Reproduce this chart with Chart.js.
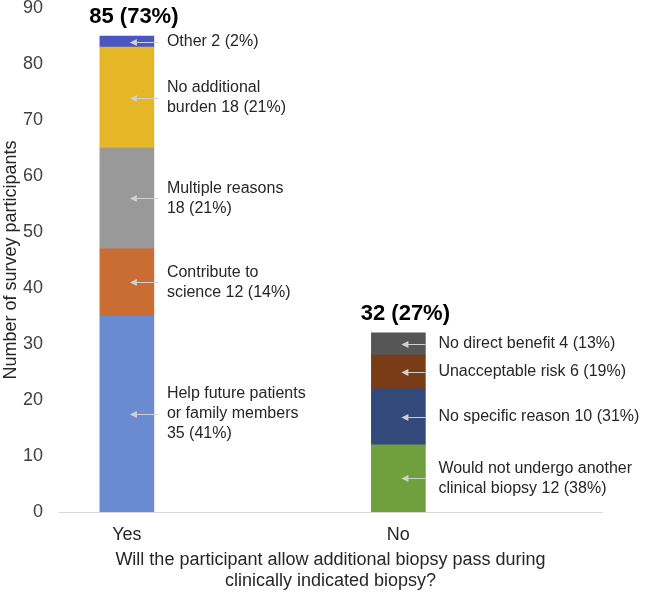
<!DOCTYPE html>
<html>
<head>
<meta charset="utf-8">
<script src="https://cdn.jsdelivr.net/npm/chart.js@4"></script>
<style>
  html, body { margin: 0; padding: 0; background: #fff; }
  #wrap { width: 664px; height: 592px; }
</style>
</head>
<body>
<div id="wrap"><canvas id="barChart"></canvas></div>
<script>
// Data

const categories = ['Yes', 'No'];

// reasons, bottom to top ("\n" = line break in the callout)
const yesReasons = ['Help future patients\nor family members\n', 'Contribute to\nscience', 'Multiple reasons\n', 'No additional\nburden', 'Other'];
const yesCounts = [35, 12, 18, 18, 2];
const yesColors = ['#6a8bd0', '#c96d35', '#999999', '#e6b629', '#4a56c2'];

const noReasons = ['Would not undergo another\nclinical biopsy', 'No specific reason', 'Unacceptable risk', 'No direct benefit'];
const noCounts = [12, 10, 6, 4];
const noColors = ['#70a03d', '#33497c', '#7a3c17', '#565656'];

const yTicks = [0, 10, 20, 30, 40, 50, 60, 70, 80, 90];

const font = '"Liberation Sans", Arial, sans-serif';

const sum = arr => arr.reduce((a, b) => a + b, 0);
const yesTotal = sum(yesCounts);
const noTotal = sum(noCounts);
const allTotal = yesTotal + noTotal;

function calloutText(reason, count, total) {
    const tail = count + ' (' + Math.round(count / total * 100) + '%)';
    const txt = reason.endsWith('\n') ? reason + tail : reason + ' ' + tail;
    return txt.split('\n');
}

const datasets = [];
yesCounts.forEach((v, i) => datasets.push({
    data: [{ x: 0, y: v }],
    backgroundColor: yesColors[i],
    callout: calloutText(yesReasons[i], v, yesTotal),
    arrowGap: 4,
}));
noCounts.forEach((v, i) => datasets.push({
    data: [{ x: 1, y: v }],
    backgroundColor: noColors[i],
    callout: calloutText(noReasons[i], v, noTotal),
    arrowGap: 0,
}));

const totals = [yesTotal, noTotal];

// Callouts + totals

const calloutPlugin = {
    id: 'callouts',
    afterDatasetsDraw(chart) {
        const ctx = chart.ctx;
        ctx.save();
        const tops = [];
        chart.data.datasets.forEach((ds, di) => {
            const bar = chart.getDatasetMeta(di).data[0];
            const midY = (bar.y + bar.base) / 2;
            const right = bar.x + bar.width / 2;
            const cat = ds.data[0].x;
            if (tops[cat] === undefined || bar.y < tops[cat].y) tops[cat] = bar;

            // arrow
            const tip = bar.x + 3;
            const ay = Math.round(midY) + 0.5;
            ctx.strokeStyle = '#d0d0d0';
            ctx.fillStyle = '#d0d0d0';
            ctx.lineWidth = 1;
            ctx.beginPath();
            ctx.moveTo(right + ds.arrowGap, ay);
            ctx.lineTo(tip + 6, ay);
            ctx.stroke();
            ctx.beginPath();
            ctx.moveTo(tip, ay);
            ctx.lineTo(tip + 7, ay - 3.5);
            ctx.lineTo(tip + 7, ay + 3.5);
            ctx.closePath();
            ctx.fill();

            // text
            ctx.fillStyle = '#262626';
            ctx.font = '16px ' + font;
            ctx.textAlign = 'left';
            ctx.textBaseline = 'middle';
            const n = ds.callout.length;
            ds.callout.forEach((line, li) => {
                ctx.fillText(line, right + 13, midY + (li - (n - 1) / 2) * 20);
            });
        });

        ctx.fillStyle = '#000';
        ctx.font = 'bold 22px ' + font;
        ctx.textAlign = 'center';
        ctx.textBaseline = 'middle';
        tops.forEach((bar, i) => {
            const label = totals[i] + ' (' + Math.round(totals[i] / allTotal * 100) + '%)';
            ctx.fillText(label, bar.x + 7, bar.y - 19);
        });
        ctx.restore();
    }
};

// Chart

const barChart = document.getElementById('barChart');

const myBarChart = new Chart(barChart, {
    type: 'bar',
    data: { datasets: datasets },
    options: {
        responsive: true,
        maintainAspectRatio: false,
        animation: false,
        barThickness: 54,
        layout: { autoPadding: false, padding: { top: 8, right: 62, bottom: 0, left: 0 } },
        plugins: {
            legend: { display: false },
            tooltip: { enabled: false },
        },
        scales: {
            x: {
                type: 'linear',
                stacked: true,
                offset: false,
                min: -0.25,
                max: 1.75,
                afterBuildTicks: scale => {
                    scale.ticks = categories.map((c, i) => ({ value: i }));
                },
                afterFit: scale => {
                    scale.height = 80;
                    scale.paddingLeft = 0;
                    scale.paddingRight = 0;
                },
                grid: { display: false, drawTicks: false },
                border: { display: true, color: '#d9d9d9', width: 1 },
                ticks: {
                    padding: 12,
                    maxRotation: 0,
                    color: '#262626',
                    font: { family: font, size: 18 },
                    callback: v => categories[v] ?? '',
                },
                title: {
                    display: true,
                    text: ['Will the participant allow additional biopsy pass during', 'clinically indicated biopsy?'],
                    color: '#262626',
                    font: { family: font, size: 18, lineHeight: 1.2 },
                    padding: { top: 4, bottom: 0 },
                },
            },
            y: {
                stacked: true,
                min: 0,
                max: 90,
                afterBuildTicks: scale => {
                    scale.ticks = yTicks.map(v => ({ value: v }));
                },
                afterFit: scale => {
                    scale.width = 59;
                    scale.paddingTop = 0;
                    scale.paddingBottom = 0;
                },
                grid: { display: false, drawTicks: false },
                border: { display: false },
                ticks: {
                    padding: 16,
                    color: '#404040',
                    font: { family: font, size: 18 },
                },
                title: {
                    display: true,
                    text: 'Number of survey participants',
                    color: '#262626',
                    font: { family: font, size: 18, lineHeight: 1.2 },
                    padding: { top: 0, bottom: 6 },
                },
            },
        },
    },
    plugins: [calloutPlugin],
});
</script>
</body>
</html>
